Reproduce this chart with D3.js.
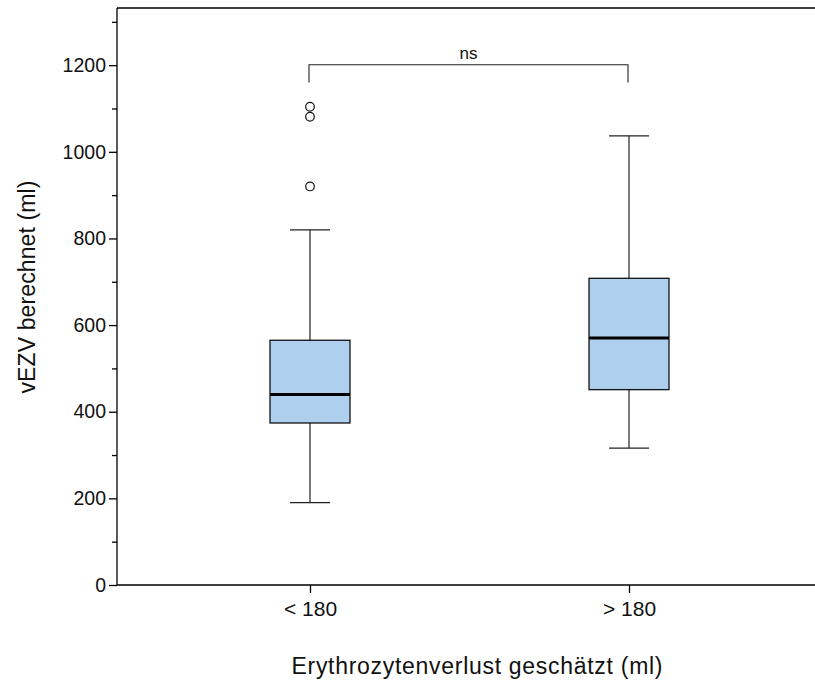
<!doctype html>
<html>
<head>
<meta charset="utf-8">
<script src="https://cdn.jsdelivr.net/npm/d3@7"></script>
<style>
  body { margin: 0; background: #fff; }
  text { font-family: "Liberation Sans", Arial, sans-serif; fill: #111; }
</style>
</head>
<body>
<svg id="chart" width="815" height="684"></svg>
<script>
// groups and box stats
var groups = ['< 180', '> 180'];
var q1 = [374, 451];
var median = [440, 570];
var q3 = [565, 708];
var whiskerLow = [190, 316];
var whiskerHigh = [820, 1037];
var outliers = [[1104, 1081, 920], []];
var majorTicks = [0, 200, 400, 600, 800, 1000, 1200];
var minorTicks = [100, 300, 500, 700, 900, 1100, 1300];
var bracketY = 1201, bracketEnd = 1160, bracketLabel = 'ns';

var svg = d3.select('#chart');
var plotLeft = 117, plotTop = 8, plotBottom = 585, plotRight = 822;

var y = d3.scaleLinear().domain([0, 1332]).range([plotBottom, plotTop]);
var x = d3.scalePoint().domain(groups).range([plotLeft, plotRight]).padding(0.605);

var boxW = 80, capW = 40;

// frame: top line plus left/bottom axes
svg.append('line').attr('x1', plotLeft).attr('x2', 815).attr('y1', plotTop).attr('y2', plotTop)
  .attr('stroke', '#000').attr('stroke-width', 1.3);

var yAxis = svg.append('g').attr('transform', 'translate(' + plotLeft + ',0)')
  .call(d3.axisLeft(y).tickValues(majorTicks).tickFormat(d3.format('d'))
    .tickSize(8).tickSizeOuter(0).tickPadding(3));
yAxis.select('.domain').attr('stroke', '#000').attr('stroke-width', 1.3)
  .attr('d', 'M0,' + plotTop + 'V' + plotBottom);
yAxis.selectAll('.tick line').attr('stroke', '#000').attr('stroke-width', 1.3);
yAxis.selectAll('.tick text').style('font-size', '19.5px').attr('fill', '#111');

svg.append('g').attr('transform', 'translate(' + plotLeft + ',0)')
  .call(d3.axisLeft(y).tickValues(minorTicks).tickSize(5).tickFormat(''))
  .call(function (g) {
    g.select('.domain').remove();
    g.selectAll('.tick line').attr('stroke', '#000').attr('stroke-width', 1.3);
  });

var xAxis = svg.append('g').attr('transform', 'translate(0,' + plotBottom + ')')
  .call(d3.axisBottom(x).tickSize(8).tickSizeOuter(0).tickPadding(8));
xAxis.select('.domain').attr('stroke', '#000').attr('stroke-width', 1.3)
  .attr('d', 'M' + plotLeft + ',0H815');
xAxis.selectAll('.tick line').attr('stroke', '#000').attr('stroke-width', 1.3);
xAxis.selectAll('.tick text').style('font-size', '21px').attr('fill', '#111');

// boxes
var boxes = svg.append('g').selectAll('g').data(groups).enter().append('g');

boxes.append('line')
  .attr('x1', function (d) { return x(d); }).attr('x2', function (d) { return x(d); })
  .attr('y1', function (d, i) { return y(whiskerLow[i]); })
  .attr('y2', function (d, i) { return y(whiskerHigh[i]); })
  .attr('stroke', '#222').attr('stroke-width', 1.2);

boxes.selectAll('.cap').data(function (d, i) { return [[d, whiskerLow[i]], [d, whiskerHigh[i]]]; })
  .enter().append('line')
  .attr('x1', function (d) { return x(d[0]) - capW / 2; })
  .attr('x2', function (d) { return x(d[0]) + capW / 2; })
  .attr('y1', function (d) { return y(d[1]); })
  .attr('y2', function (d) { return y(d[1]); })
  .attr('stroke', '#222').attr('stroke-width', 1.2);

boxes.append('rect')
  .attr('x', function (d) { return x(d) - boxW / 2; })
  .attr('width', boxW)
  .attr('y', function (d, i) { return y(q3[i]); })
  .attr('height', function (d, i) { return y(q1[i]) - y(q3[i]); })
  .attr('fill', '#aecfed').attr('stroke', '#111').attr('stroke-width', 1.3);

boxes.append('line')
  .attr('x1', function (d) { return x(d) - boxW / 2; })
  .attr('x2', function (d) { return x(d) + boxW / 2; })
  .attr('y1', function (d, i) { return y(median[i]); })
  .attr('y2', function (d, i) { return y(median[i]); })
  .attr('stroke', '#000').attr('stroke-width', 3);

boxes.selectAll('circle').data(function (d, i) {
    return outliers[i].map(function (v) { return [d, v]; });
  })
  .enter().append('circle')
  .attr('cx', function (d) { return x(d[0]); })
  .attr('cy', function (d) { return y(d[1]); })
  .attr('r', 4.3)
  .attr('fill', '#fff').attr('stroke', '#111').attr('stroke-width', 1.2);

// significance bracket
var bx1 = x(groups[0]) - 1, bx2 = x(groups[1]) - 1;
svg.append('path')
  .attr('d', 'M' + bx1 + ',' + y(bracketEnd) + 'V' + y(bracketY) + 'H' + bx2 + 'V' + y(bracketEnd))
  .attr('fill', 'none').attr('stroke', '#222').attr('stroke-width', 1.1);
svg.append('text')
  .attr('x', (bx1 + bx2) / 2).attr('y', y(bracketY) - 6)
  .attr('text-anchor', 'middle').style('font-size', '17px')
  .text(bracketLabel);

// axis titles
svg.append('text')
  .attr('transform', 'translate(35,287) rotate(-90)')
  .attr('text-anchor', 'middle').style('font-size', '23px')
  .attr('textLength', 213).attr('lengthAdjust', 'spacing')
  .text('vEZV berechnet (ml)');
svg.append('text')
  .attr('x', 477).attr('y', 674)
  .attr('text-anchor', 'middle').style('font-size', '23px')
  .attr('textLength', 371).attr('lengthAdjust', 'spacing')
  .text('Erythrozytenverlust geschätzt (ml)');
</script>
</body>
</html>
